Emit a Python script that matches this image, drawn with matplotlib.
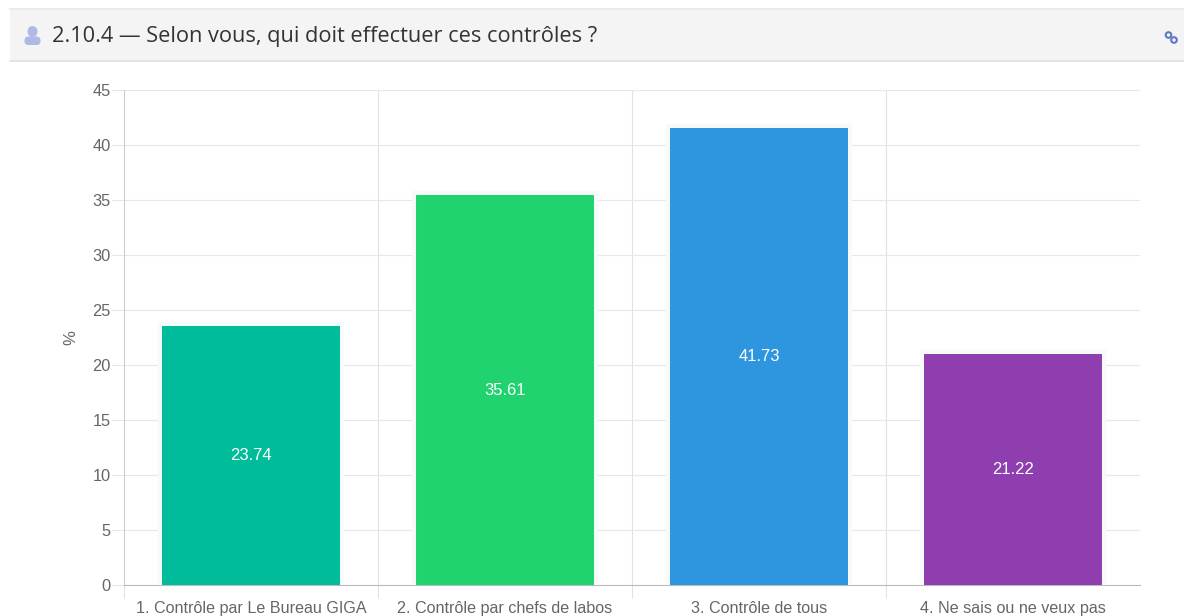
import matplotlib
matplotlib.use('Agg')
import matplotlib.pyplot as plt
from matplotlib.patches import Rectangle, Circle, Ellipse, FancyBboxPatch

categories = ['1. Contrôle par Le Bureau GIGA', '2. Contrôle par chefs de labos',
              '3. Contrôle de tous', '4. Ne sais ou ne veux pas']
values = [23.74, 35.61, 41.73, 21.22]
colors = ['#00BC9A', '#20D36F', '#2E95DF', '#8F3EAF']
yticks = list(range(0, 50, 5))
title = '2.10.4 — Selon vous, qui doit effectuer ces contrôles ?'

W, H = 1184, 616
fig = plt.figure(figsize=(W / 100, H / 100), dpi=100)
plt.rcParams['font.family'] = ['Liberation Sans', 'DejaVu Sans']

# page layer in pixels, y pointing down
bg = fig.add_axes([0, 0, 1, 1])
bg.set_xlim(0, W)
bg.set_ylim(H, 0)
bg.axis('off')
bg.add_patch(Rectangle((10, 9), W - 10, 52, fc='#F4F4F4', ec='none'))
bg.plot([10, W], [9, 9], color='#E8E8E8', lw=1.2)
bg.plot([10, W], [60.5, 60.5], color='#E0E0E0', lw=1.2)

# person icon
icon = '#B0B9E3'
bg.add_patch(Ellipse((32.5, 31.5), 10, 11, fc=icon, ec='none'))
bg.add_patch(FancyBboxPatch((24.5, 36.5), 16, 8.5, boxstyle='round,pad=0,rounding_size=4',
                            fc=icon, ec='none'))
bg.text(52, 36.5, title, fontsize=15.7, color='#333333', va='center', ha='left',
        family=['Open Sans', 'DejaVu Sans'])

# link icon
bg.add_patch(Circle((1168.5, 35), 2.8, fc='none', ec='#5B7CC4', lw=1.5))
bg.add_patch(Circle((1174, 40), 2.8, fc='none', ec='#5B7CC4', lw=1.5))

ax = fig.add_axes([124 / W, 1 - 585 / H, (1140 - 124) / W, (585 - 90) / H])
ax.patch.set_alpha(0)
x = range(len(values))
# bars start below the axis so the pale border only shows on top and sides
ax.bar(x, [v + 1 for v in values], bottom=-1, width=0.716, color=colors,
       edgecolor='#F6FBFA', linewidth=2.9, zorder=3)
for pos, val in zip(x, values):
    ax.text(pos, val / 2 - 0.1, '%.2f' % val, color='white', fontsize=12, ha='center', va='center',
            zorder=4)

ax.set_xlim(-0.5, 3.5)
ax.set_ylim(0, 45)
ax.set_yticks(yticks)
ax.set_xticks(list(x))
ax.set_xticklabels(categories)
ax.set_xticks([0.5, 1.5, 2.5], minor=True)
ax.grid(axis='y', color='#E8E8E8', lw=0.8, zorder=0)
ax.grid(axis='x', which='minor', color='#E2E2E2', lw=0.8, zorder=0)
ax.tick_params(axis='y', length=9, width=0.8, color='#E6E6E6', labelsize=11.8,
               labelcolor='#666666', pad=0.5)
ax.tick_params(axis='x', which='major', length=0, labelsize=11.6, labelcolor='#666666', pad=11.5)
ax.tick_params(axis='x', which='minor', length=9, width=0.8, color='#E2E2E2')
ax.set_ylabel('%', fontsize=12, color='#666666')
ax.yaxis.set_label_coords((78 - 124) / 1016, 0.5)
for side in ['top', 'right']:
    ax.spines[side].set_visible(False)
ax.spines['left'].set_color('#CCCCCC')
ax.spines['bottom'].set_color('#BBBBBB')
ax.plot([0, 0], [0, -0.026], transform=ax.transAxes, color='#E2E2E2', lw=0.8, clip_on=False)

fig.savefig('out.png', dpi=100)
